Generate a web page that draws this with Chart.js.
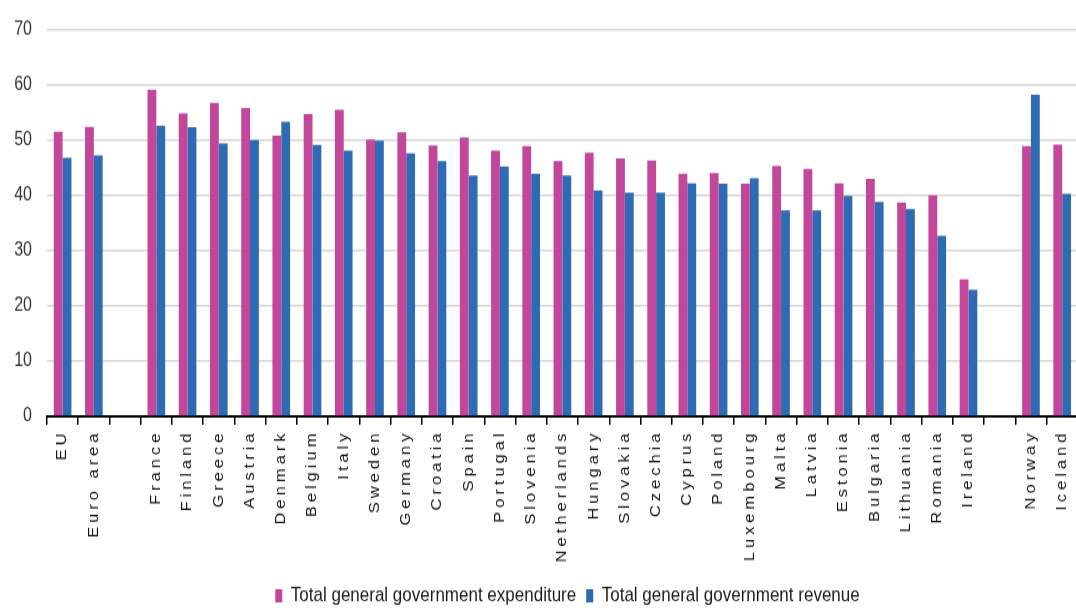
<!DOCTYPE html>
<html>
<head>
<meta charset="utf-8">
<script src="https://cdn.jsdelivr.net/npm/chart.js@4/dist/chart.umd.min.js"></script>
<style>
  html, body { margin: 0; padding: 0; background: #fff; }
  #page { width: 1076px; height: 608px; overflow: hidden; position: relative; }
  /* the chart is drawn a bit taller than wide, like the published figure */
  #wrap { position: absolute; left: 0; top: 0; width: 1083px; height: 515px; transform: scale(1, 1.2); transform-origin: 0 0; }
</style>
</head>
<body>
<div id="page"><div id="wrap"><canvas id="chart"></canvas></div></div>
<script>
// % of GDP, blank entries separate EU aggregates / member states / EFTA
const categories = ['EU', 'Euro area', '',
  'France', 'Finland', 'Greece', 'Austria', 'Denmark', 'Belgium', 'Italy', 'Sweden', 'Germany', 'Croatia',
  'Spain', 'Portugal', 'Slovenia', 'Netherlands', 'Hungary', 'Slovakia', 'Czechia', 'Cyprus', 'Poland', 'Luxembourg',
  'Malta', 'Latvia', 'Estonia', 'Bulgaria', 'Lithuania', 'Romania', 'Ireland', '',
  'Norway', 'Iceland'];

const expenditure = [51.5, 52.4, null,
  59.1, 54.8, 56.7, 55.8, 50.8, 54.7, 55.5, 50.1, 51.4, 49.0,
  50.5, 48.1, 48.9, 46.2, 47.7, 46.7, 46.3, 43.9, 44.0, 42.1,
  45.3, 44.8, 42.2, 43.0, 38.7, 40.0, 24.8, null,
  48.9, 49.2];

const revenue = [46.8, 47.2, null,
  52.6, 52.3, 49.4, 50.0, 53.3, 49.1, 48.1, 49.9, 47.6, 46.2,
  43.6, 45.2, 43.9, 43.6, 40.9, 40.5, 40.5, 42.2, 42.1, 43.1,
  37.3, 37.3, 39.9, 38.8, 37.5, 32.7, 22.9, null,
  58.2, 40.3];

const seriesNames = ['Total general government expenditure', 'Total general government revenue'];
const yMin = 0, yMax = 70, yStep = 10;

const FONT = "'Liberation Sans', Arial, sans-serif";

// category axis whose labels are drawn with wider tracking
const CategoryScale = Chart.CategoryScale || Chart.registry.getScale('category');
class SpacedCategoryScale extends CategoryScale {
  static id = 'spacedCategory';
  drawLabels(area) {
    const ctx = this.ctx;
    ctx.save();
    ctx.letterSpacing = '3.2px';
    super.drawLabels(area);
    ctx.restore();
  }
}
Chart.register(SpacedCategoryScale);

// nudge the legend row to the right
const legendShift = {
  id: 'legendShift',
  afterLayout(chart) {
    if (chart.legend) {
      chart.legend.left += 26;
      chart.legend.right += 26;
    }
  }
};

new Chart(document.getElementById('chart'), {
  type: 'bar',
  data: {
    labels: categories,
    datasets: [{
      label: seriesNames[0],
      data: expenditure,
      backgroundColor: '#c2479a',
      borderWidth: 0
    }, {
      label: seriesNames[1],
      data: revenue,
      backgroundColor: '#2d6cb4',
      borderWidth: 0
    }]
  },
  options: {
    responsive: true,
    maintainAspectRatio: false,
    animation: false,
    layout: { padding: { top: 21, left: 0, right: 0, bottom: 0 } },
    datasets: {
      bar: { categoryPercentage: 0.565, barPercentage: 1.0 }
    },
    plugins: {
      legend: {
        position: 'bottom',
        labels: {
          boxWidth: 7,
          boxHeight: 11,
          padding: 10,
          color: '#1a1a1a',
          font: { family: FONT, size: 17 }
        }
      },
      tooltip: { enabled: false }
    },
    scales: {
      x: {
        type: 'spacedCategory',
        offset: true,
        grid: {
          offset: true,
          drawOnChartArea: false,
          drawTicks: true,
          tickLength: 7,
          color: '#000',
          lineWidth: 1.5
        },
        border: { display: true, color: '#000', width: 2 },
        ticks: {
          autoSkip: false,
          minRotation: 90,
          maxRotation: 90,
          padding: 4,
          color: '#111',
          font: { family: FONT, size: 14 }
        },
        afterFit: (scale) => { scale.height = 131; }
      },
      y: {
        min: yMin,
        max: yMax,
        grid: { color: '#d6d6d6', lineWidth: 1.5, drawTicks: false },
        border: { display: false },
        ticks: {
          stepSize: yStep,
          padding: 15,
          color: '#333',
          font: { family: FONT, size: 16 }
        },
        afterFit: (scale) => { scale.width = 47; }
      }
    }
  },
  plugins: [legendShift]
});
</script>
</body>
</html>
